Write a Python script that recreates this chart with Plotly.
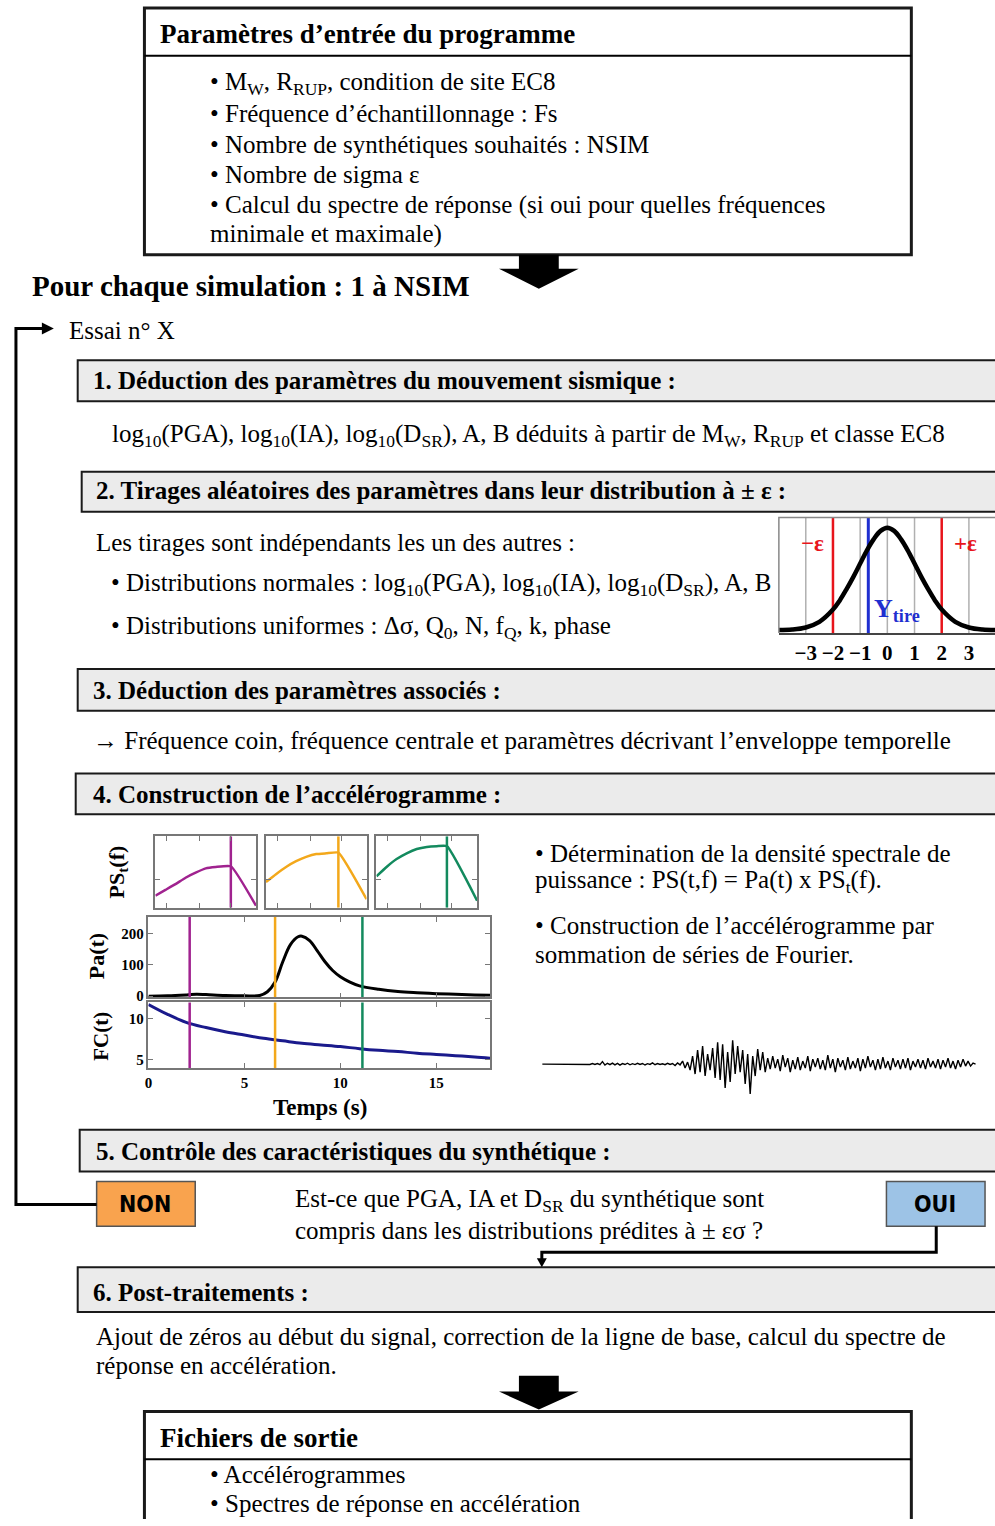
import plotly.graph_objects as go

W, H = 995, 1526
SERIF = "Liberation Serif, Times New Roman, serif"
HEAVY = "DejaVu Sans Condensed, Liberation Sans Narrow, sans-serif"

# --- encart de l'étape 2 : loi normale ---
gauss_x = [-4.0, -3.5, -3.0, -2.5, -2.0, -1.75, -1.5, -1.25, -1.0, -0.75, -0.5, -0.25, 0.0,
           0.25, 0.5, 0.75, 1.0, 1.25, 1.5, 1.75, 2.0, 2.5, 3.0, 3.5, 4.0]
gauss_y = [0.0, 0.005, 0.025, 0.08, 0.2, 0.29, 0.4, 0.52, 0.65, 0.78, 0.89, 0.97, 1.0,
           0.97, 0.89, 0.78, 0.65, 0.52, 0.4, 0.29, 0.2, 0.08, 0.025, 0.005, 0.0]
gauss_ticks = [-3, -2, -1, 0, 1, 2, 3]
gauss_ticktext = ["−3", "−2", "−1", "0", "1", "2", "3"]
grid_sigma = [-3, -1, 0, 1, 3]
eps_sigma = [-2, 2]
y_tire = -0.7

# --- PS_t(f) aux trois instants (axes normalisés) ---
ps_colors = ["#a0228f", "#f3a81b", "#138a5e"]
ps_f = [
    [0, 0.1, 0.2, 0.3, 0.4, 0.5, 0.6, 0.75, 1.0],
    [0, 0.1, 0.2, 0.3, 0.4, 0.5, 0.6, 0.72, 1.0],
    [0, 0.1, 0.2, 0.3, 0.4, 0.5, 0.6, 0.70, 1.0],
]
ps_val = [
    [0.17, 0.25, 0.33, 0.42, 0.49, 0.55, 0.57, 0.58, 0.03],
    [0.36, 0.47, 0.57, 0.65, 0.71, 0.75, 0.76, 0.77, 0.12],
    [0.44, 0.57, 0.68, 0.76, 0.82, 0.85, 0.86, 0.86, 0.10],
]
ps_corner = [0.75, 0.72, 0.70]

# --- Pa(t) et FC(t) ---
t_instants = [2.15, 6.6, 11.15]
pa_t = [0, 1, 2, 2.5, 3, 4, 5, 5.8, 6.2, 6.6, 7, 7.4, 7.8, 8.0, 8.4, 8.8, 9.2, 9.6,
        10, 10.5, 11, 12, 13, 14, 15, 16, 17, 17.8]
pa_val = [0, 1, 4, 6, 5, 2, 1, 2, 14, 45, 110, 165, 190, 192, 178, 145, 110, 82,
          62, 45, 33, 22, 15, 11, 8, 6, 4, 3]
fc_t = [0, 1, 2, 3, 4, 5, 6, 7, 8, 9, 10, 11, 12, 13, 14, 15, 16, 17, 17.8]
fc_val = [11.7, 10.5, 9.5, 8.9, 8.4, 8.0, 7.6, 7.3, 7.0, 6.8, 6.6, 6.35, 6.15, 6.0,
          5.8, 5.65, 5.5, 5.35, 5.2]

# --- accélérogramme synthétique (amplitudes relevées) ---
acc = [0] * 18 + [
    0.3, -0.4, 0.5, -0.3, 0.6, -0.5, 2.5, -1.0, 0.8, -0.6, 1.0, -0.8, 0.7, -1.0, 0.5, -0.4,
    0.9, -0.7, 0.4, -0.5, 0.8, -0.3, 0.6, -0.9, 0.4, -0.3, 1.2, -0.6, 0.5, -0.4, 0.3, -0.6,
    0.8, -0.4, 0.6, -1.5, 1.2, -0.8,
    3, -4, 2, -6,
    8, -10, 14, -8, 18, -12, 10, -6, 16, -14, 22, -16, 20, -24, 12, -18, 24, -10, 18, -8,
    14, -20, 10, -30, 8, -12, 15, -6, 12, -8,
    6, -5, 8, -4, 5, -7, 9, -3, 6, -8, 4, -5, 7, -6, 3, -4, 8, -7, 5, -3, 6, -5, 4, -6,
    9, -4, 5, -8, 6, -3, 4, -6, 7, -5, 3, -4, 6, -7, 5, -4, 8, -3, 4, -6, 5, -5, 7, -4,
    3, -6, 6, -3, 4, -5, 5, -4, 6, -6, 3, -3, 5, -4, 4, -5, 6, -3, 3, -4, 5, -5, 4, -3,
    6, -4, 3, -5, 4, -3, 5, -2, 3, -2, 1, 0,
]


def xdom(x0, x1):
    return [x0 / W, min(x1 / W, 1.0)]


def ydom(y0, y1):
    return [1 - y1 / H, 1 - y0 / H]


fig = go.Figure()

# canevas principal en pixels
fig.add_trace(go.Scatter(x=[0], y=[0], mode="markers", marker=dict(opacity=0)))

# loi normale
for g in grid_sigma:
    fig.add_trace(go.Scatter(x=[g, g], y=[-0.03, 1.1], mode="lines",
                             line=dict(color="#b0b0b0", width=1.5), xaxis="x2", yaxis="y2"))
for e in eps_sigma:
    fig.add_trace(go.Scatter(x=[e, e], y=[-0.03, 1.1], mode="lines",
                             line=dict(color="#e8141b", width=2.5), xaxis="x2", yaxis="y2"))
fig.add_trace(go.Scatter(x=[y_tire, y_tire], y=[-0.03, 1.1], mode="lines",
                         line=dict(color="#1f2fd0", width=3), xaxis="x2", yaxis="y2"))
fig.add_trace(go.Scatter(x=gauss_x, y=gauss_y, mode="lines", line=dict(color="black", width=4.5, shape="spline"),
                         xaxis="x2", yaxis="y2"))

# PS_t(f)
for i in range(3):
    ax = str(3 + i)
    fig.add_trace(go.Scatter(x=ps_f[i], y=ps_val[i], mode="lines",
                             line=dict(color=ps_colors[i], width=2.5, shape="spline", smoothing=0.4),
                             xaxis="x" + ax, yaxis="y" + ax))
    fig.add_trace(go.Scatter(x=[ps_corner[i], ps_corner[i]], y=[0, 1], mode="lines",
                             line=dict(color=ps_colors[i], width=2.5), xaxis="x" + ax, yaxis="y" + ax))

# Pa(t), FC(t)
fig.add_trace(go.Scatter(x=pa_t, y=pa_val, mode="lines", line=dict(color="black", width=3, shape="spline"),
                         xaxis="x6", yaxis="y6"))
fig.add_trace(go.Scatter(x=fc_t, y=fc_val, mode="lines", line=dict(color="#1a1a8c", width=3, shape="spline"),
                         xaxis="x7", yaxis="y7"))
for t, c in zip(t_instants, ps_colors):
    fig.add_trace(go.Scatter(x=[t, t], y=[-10, 300], mode="lines", line=dict(color=c, width=2.5),
                             xaxis="x6", yaxis="y6"))
    fig.add_trace(go.Scatter(x=[t, t], y=[0, 20], mode="lines", line=dict(color=c, width=2.5),
                             xaxis="x7", yaxis="y7"))

# accélérogramme
fig.add_trace(go.Scatter(x=list(range(len(acc))), y=acc, mode="lines",
                         line=dict(color="black", width=1.4), xaxis="x8", yaxis="y8"))

fig.update_traces(showlegend=False, hoverinfo="skip")

# ---------- formes du logigramme ----------
shapes = []


def rect(x0, y0, x1, y1, fill="white", lw=2, lc="#1a1a1a"):
    shapes.append(dict(type="rect", xref="x", yref="y", x0=x0, y0=y0, x1=x1, y1=y1,
                       fillcolor=fill, line=dict(color=lc, width=lw), layer="below"))


def path(d, fill=None, lw=3, color="black"):
    s = dict(type="path", xref="x", yref="y", path=d, line=dict(color=color, width=lw))
    if fill:
        s["fillcolor"] = fill
        s["line"] = dict(color=fill, width=0)
    shapes.append(s)


rect(141, 8, 911, 256, lw=3)
path("M141,56 L911,56", lw=2)
rect(74, 362, 1000, 403, fill="#ebebeb")
rect(78, 474, 1000, 514, fill="#ebebeb")
rect(74, 672, 1000, 714, fill="#ebebeb")
rect(72, 777, 1000, 818, fill="#ebebeb")
rect(76, 1135, 1000, 1177, fill="#ebebeb")
rect(74, 1273, 1000, 1318, fill="#ebebeb")
rect(141, 1418, 911, 1545, lw=3)
path("M141,1466 L911,1466", lw=2)
rect(93, 1187, 192, 1232, fill="#f9a34e", lw=1.5, lc="#555")
rect(886, 1187, 985, 1232, fill="#9dc3e6", lw=1.5, lc="#555")

# flèches pleines
path("M517,256 L557,256 L557,270 L577,270 L537,290 L497,270 L517,270 Z", fill="black")
path("M517,1382 L557,1382 L557,1398 L577,1398 L537,1416 L497,1398 L517,1398 Z", fill="black")
# boucle NON -> Essai
path("M93,1210 L12,1210 L12,330 L40,330", lw=3)
path("M38,324 L50,330 L38,336 Z", fill="black")
# OUI -> post-traitements
path("M936,1232 L936,1258 L540,1258 L540,1266", lw=3)
path("M535,1264 L545,1264 L540,1273 Z", fill="black")
# cadre de l'encart gaussien
path("M778,636 L778,520 L1000,520", lw=1.5, color="#888")

# ---------- textes ----------
annotations = []


def txt(x, y, s, size=25, color="black", anchor="left", family=SERIF, angle=0):
    annotations.append(dict(x=x, y=y, xref="x", yref="y", text=s, showarrow=False,
                            xanchor=anchor, yanchor="middle", textangle=angle,
                            font=dict(family=family, size=size, color=color)))


txt(155, 34, "<b>Paramètres d’entrée du programme</b>", 27)
txt(205, 84, "• M<sub>W</sub>, R<sub>RUP</sub>, condition de site EC8")
txt(205, 114, "• Fréquence d’échantillonnage : Fs")
txt(205, 145, "• Nombre de synthétiques souhaités : NSIM")
txt(205, 175, "• Nombre de sigma ε")
txt(205, 206, "• Calcul du spectre de réponse (si oui pour quelles fréquences")
txt(205, 235, "minimale et maximale)")
txt(26, 287, "<b>Pour chaque simulation : 1 à NSIM</b>", 29)
txt(63, 332, "Essai n° X")

txt(87, 382, "<b>1. Déduction des paramètres du mouvement sismique :</b>")
txt(106, 437, "log<sub>10</sub>(PGA), log<sub>10</sub>(IA), log<sub>10</sub>(D<sub>SR</sub>), A, B déduits "
              "à partir de M<sub>W</sub>, R<sub>RUP</sub> et classe EC8")
txt(90, 493, "<b>2. Tirages aléatoires des paramètres dans leur distribution à ± ε :</b>")
txt(90, 545, "Les tirages sont indépendants les un des autres :")
txt(105, 587, "• Distributions normales : log<sub>10</sub>(PGA), log<sub>10</sub>(IA), "
              "log<sub>10</sub>(D<sub>SR</sub>), A, B")
txt(105, 630, "• Distributions uniformes : Δσ, Q<sub>0</sub>, N, f<sub>Q</sub>, k, phase")
txt(812, 546, "<b>−ε</b>", 23, color="#e8141b", anchor="center")
txt(965, 546, "<b>+ε</b>", 23, color="#e8141b", anchor="center")
txt(871, 613, "<b>Y<sub>tire</sub></b>", 26, color="#1f2fd0")

txt(87, 694, "<b>3. Déduction des paramètres associés :</b>")
txt(87, 744, "→ Fréquence coin, fréquence centrale et paramètres décrivant l’enveloppe temporelle")
txt(87, 798, "<b>4. Construction de l’accélérogramme :</b>")
txt(531, 857, "• Détermination de la densité spectrale de")
txt(531, 886, "puissance : PS(t,f) = Pa(t) x PS<sub>t</sub>(f).")
txt(531, 930, "• Construction de l’accélérogramme par")
txt(531, 959, "sommation de séries de Fourier.")
txt(114, 876, "<b>PS<sub>t</sub>(f)</b>", 22, anchor="center", angle=-90)
txt(93, 961, "<b>Pa(t)</b>", 22, anchor="center", angle=-90)
txt(98, 1041, "<b>FC(t)</b>", 21, anchor="center", angle=-90)
txt(317, 1113, "<b>Temps (s)</b>", 23, anchor="center")

txt(90, 1157, "<b>5. Contrôle des caractéristiques du synthétique :</b>")
txt(142, 1210, "<b>NON</b>", 23, anchor="center", family=HEAVY)
txt(935, 1210, "<b>OUI</b>", 23, anchor="center", family=HEAVY)
txt(290, 1206, "Est-ce que PGA, IA et D<sub>SR</sub> du synthétique sont")
txt(290, 1236, "compris dans les distributions prédites à ± εσ ?")
txt(87, 1298, "<b>6. Post-traitements :</b>")
txt(90, 1343, "Ajout de zéros au début du signal, correction de la ligne de base, calcul du spectre de")
txt(90, 1372, "réponse en accélération.")
txt(155, 1445, "<b>Fichiers de sortie</b>", 27)
txt(205, 1481, "• Accélérogrammes")
txt(205, 1510, "• Spectres de réponse en accélération")

# ---------- axes ----------
tick_font = dict(family=SERIF, size=15, color="black")
frame = dict(showline=True, linecolor="#777", linewidth=1.5, mirror="ticks", showgrid=False,
             zeroline=False, ticks="inside", ticklen=5, tickcolor="#777")

layout_axes = dict(
    xaxis=dict(domain=[0, 1], range=[0, W], visible=False),
    yaxis=dict(domain=[0, 1], range=[H, 0], visible=False),
    xaxis2=dict(domain=xdom(778, 995), range=[-3.99, 3.96], anchor="y2", showgrid=False, zeroline=False,
                showline=True, linecolor="#444", linewidth=2, tickvals=gauss_ticks,
                ticktext=["<b>%s</b>" % s for s in gauss_ticktext], ticks="",
                tickfont=dict(family=SERIF, size=21, color="black")),
    yaxis2=dict(domain=ydom(520, 636), range=[-0.03, 1.1], anchor="x2", visible=False),
)
for i, (x0, x1) in enumerate([(152, 253), (263, 364), (374, 475)]):
    n = str(3 + i)
    layout_axes["xaxis" + n] = dict(frame, domain=xdom(x0, x1), range=[0, 1], anchor="y" + n,
                                    tickvals=[0.11, 0.44, 0.75], showticklabels=False)
    layout_axes["yaxis" + n] = dict(frame, domain=ydom(840, 912), range=[0, 1], anchor="x" + n,
                                    tickvals=[0.4], showticklabels=False)

layout_axes["xaxis6"] = dict(frame, domain=xdom(145, 488), range=[0, 17.8], anchor="y6",
                             tickvals=[0, 5, 10, 15], showticklabels=False)
layout_axes["yaxis6"] = dict(frame, domain=ydom(921, 1002), range=[-4, 254], anchor="x6",
                             tickvals=[0, 100, 200], ticktext=["<b>0</b>", "<b>100</b>", "<b>200</b>"],
                             tickfont=tick_font)
layout_axes["xaxis7"] = dict(frame, domain=xdom(145, 488), range=[0, 17.8], anchor="y7",
                             tickvals=[0, 5, 10, 15], ticktext=["<b>0</b>", "<b>5</b>", "<b>10</b>", "<b>15</b>"],
                             tickfont=tick_font)
layout_axes["yaxis7"] = dict(frame, domain=ydom(1007, 1073), range=[4.0, 11.95], anchor="x7",
                             tickvals=[5, 10], ticktext=["<b>5</b>", "<b>10</b>"], tickfont=tick_font)
layout_axes["xaxis8"] = dict(domain=xdom(538, 978), range=[-1, len(acc)], anchor="y8", visible=False)
layout_axes["yaxis8"] = dict(domain=ydom(1038, 1100), range=[-31, 31], anchor="x8", visible=False)

fig.update_layout(
    width=W, height=H,
    margin=dict(l=0, r=0, t=0, b=0),
    paper_bgcolor="white", plot_bgcolor="rgba(0,0,0,0)",
    shapes=shapes, annotations=annotations,
    font=dict(family=SERIF, color="black"),
    **layout_axes,
)

fig.write_html("out.html", config={"displayModeBar": False},
               post_script="document.body.style.margin = '0';"
                           "document.body.style.overflow = 'hidden';"
                           "document.documentElement.style.overflow = 'hidden';")
